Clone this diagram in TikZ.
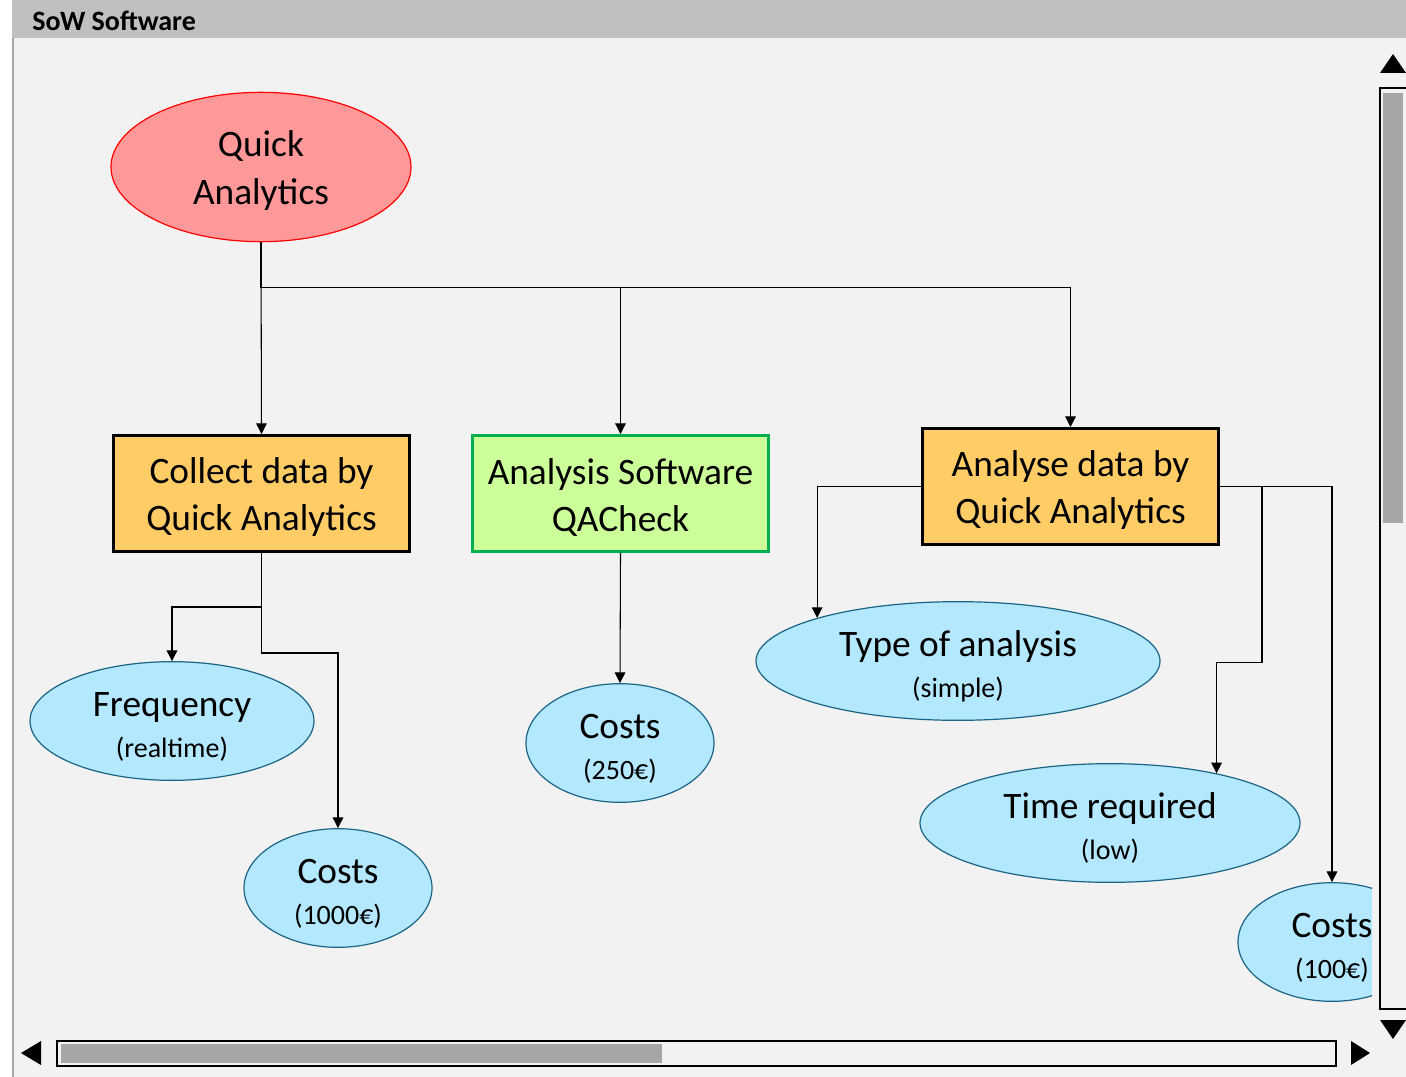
\documentclass[tikz,border=0pt]{standalone}
\usepackage{fontspec}
\setmainfont{Carlito}
\usetikzlibrary{shapes.geometric,arrows.meta}

\definecolor{panelgray}{HTML}{F2F2F2}
\definecolor{bargray}{HTML}{C0C0C0}
\definecolor{thumbgray}{HTML}{A6A6A6}
\definecolor{rootfill}{HTML}{FF9999}
\definecolor{taskfill}{HTML}{FFCC66}
\definecolor{softfill}{HTML}{CCFF99}
\definecolor{softline}{HTML}{00B050}
\definecolor{attrfill}{HTML}{B3E8FF}
\definecolor{attrline}{HTML}{1A6485}

\newcommand{\bigtext}{\fontsize{28}{35.5}\selectfont}
\newcommand{\smalltext}{\fontsize{21}{25}\selectfont}
\newcommand{\lift}[1]{\rule{0pt}{#1}}

\tikzstyle{arrow} = [line width=0.8pt,-{Triangle[width=8pt,length=8pt]}]
\tikzstyle{rootbubble} = [
        ellipse,
        minimum width=225pt,
        minimum height=112pt,
        inner sep=0pt,
        align=center,
        font=\bigtext,
        fill=rootfill,
        draw=red,
        line width=0.9pt,
    ]
\tikzstyle{taskbox} = [
        rectangle,
        minimum width=222pt,
        minimum height=87pt,
        align=center,
        font=\bigtext,
        fill=taskfill,
        draw=black,
        line width=2.2pt,
    ]
\tikzstyle{softbox} = [
        taskbox,
        fill=softfill,
        draw=softline,
    ]
\tikzstyle{attrbubble} = [
        ellipse,
        minimum height=89pt,
        inner sep=0pt,
        align=center,
        font=\bigtext,
        fill=attrfill,
        draw=attrline,
        line width=0.9pt,
    ]

\begin{document}
\begin{tikzpicture}[x=0.75pt,y=-0.75pt]
            % window frame
            \useasboundingbox (0,0) rectangle (1406,1077);
            \fill[white] (0,0) rectangle (1406,1077);
            \fill[panelgray] (12,38) rectangle (1406,1077);
            \fill[bargray] (12,0) rectangle (1406,38);
            \draw[thumbgray, line width=1.5pt] (13,38) -- (13,1077);
            \node[anchor=base west, inner sep=0pt, font=\fontsize{21}{25}\selectfont\bfseries] (title) at (32,31) {SoW Software};
            % scroll bars
            \fill (1380,73) -- (1406,73) -- (1393,54) -- cycle;
            \fill (1380,1020) -- (1406,1020) -- (1393,1039) -- cycle;
            \draw[line width=1pt] (1380,88) rectangle (1410,1009);
            \fill[thumbgray] (1383,93) rectangle (1403,523);
            \fill (41,1041) -- (41,1065) -- (21,1053) -- cycle;
            \fill (1351,1041) -- (1351,1065) -- (1370,1053) -- cycle;
            \draw[line width=1pt] (57,1041) rectangle (1336,1066);
            \fill[thumbgray] (61,1044) rectangle (662,1063);
            % diagram
            \begin{scope}
            \clip (14,38) rectangle (1372,1035);
            \node [rootbubble] (qa) at (261,167) {\lift{25pt}Quick\\Analytics};
            \node [taskbox] (collect) at (261.5,493.5) {\lift{25pt}Collect data by\\Quick Analytics};
            \node [softbox] (software) at (620.5,493.5) {\lift{25pt}Analysis Software\\QACheck};
            \node [taskbox] (analyse) at (1070.5,486.5) {\lift{25pt}Analyse data by\\Quick Analytics};
            \node [attrbubble, minimum width=213pt] (freq) at (172,721) {\lift{27pt}Frequency\\[-5pt]\smalltext (realtime)};
            \node [attrbubble, minimum width=141pt] (costcollect) at (338,888) {\lift{27pt}Costs\\[-5pt]\smalltext (1000€)};
            \node [attrbubble, minimum width=141pt] (costsoftware) at (620,743) {\lift{27pt}Costs\\[-5pt]\smalltext (250€)};
            \node [attrbubble, minimum width=303pt] (type) at (958,661) {\lift{27pt}Type of analysis\\[-5pt]\smalltext (simple)};
            \node [attrbubble, minimum width=285pt] (time) at (1110,823) {\lift{27pt}Time required\\[-5pt]\smalltext (low)};
            \node [attrbubble, minimum width=141pt] (costanalyse) at (1332,942) {\lift{27pt}Costs\\[-5pt]\smalltext (100€)};
            \draw [arrow] (qa.south) -- (collect.north);
            \draw [arrow] (qa.south) -- ++(0,45) -| (software.north);
            \draw [arrow] (qa.south) -- ++(0,45) -| (analyse.north);
            \draw [arrow] (collect.south) -- ++(0,54) -| (freq.north);
            \draw [arrow] (collect.south) -- ++(0,100) -| (costcollect.north);
            \draw [arrow] (software.south) -- (costsoftware.north);
            \draw [arrow] (analyse.west) -| (type.163);
            \draw [arrow] (analyse.east) -- ++(42,0) -- ++(0,176) -| (time.25);
            \draw [arrow] (analyse.east) -| (costanalyse.north);
            \end{scope}
        \end{tikzpicture}
\end{document}
